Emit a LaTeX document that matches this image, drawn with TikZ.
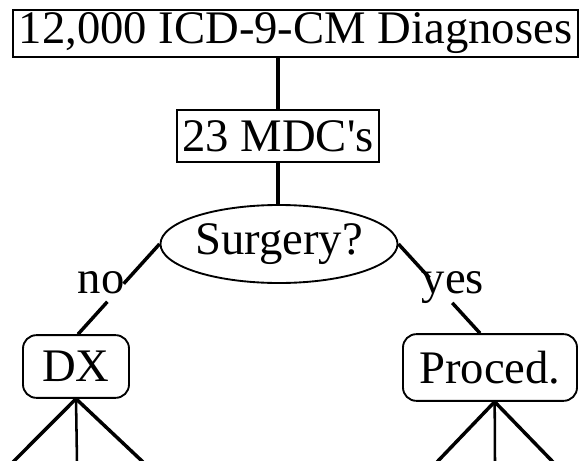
\documentclass[tikz,border=0pt]{standalone}
\usepackage{fontspec}
\setmainfont{Liberation Serif}

\tikzset{every picture/.style={line width=0.75pt}}
\tikzset{
  sqbox/.style={draw,line width=1.4pt,inner sep=0pt,font=\fontsize{35}{40}\selectfont},
  rndbox/.style={draw,line width=1.4pt,rounded corners=10pt,inner sep=0pt,font=\fontsize{35}{40}\selectfont},
  ovalbox/.style={draw,ellipse,line width=1.4pt,inner sep=0pt,font=\fontsize{35}{40}\selectfont},
  branch/.style={line width=2.6pt},
  answer/.style={anchor=base,inner sep=0pt,font=\fontsize{35}{40}\selectfont}
}
\usetikzlibrary{shapes.geometric}

\begin{document}
\begin{tikzpicture}[x=0.75pt,y=0.75pt,yscale=-1,xscale=1]
\useasboundingbox (0,0) rectangle (581,460); %set diagram left start at 0, and has height of 460

\node [sqbox,minimum width=424pt,minimum height=35pt] (icd) at (295.5,33.5) {12,000 ICD-9-CM Diagnoses};
\node [sqbox,minimum width=151.5pt,minimum height=39pt] (mdc) at (278,136) {23 MDC\textquotesingle s};
\node [ovalbox,minimum width=160pt,minimum height=58.5pt] (surg) at (279,244) {Surgery?};
\node [rndbox,minimum width=79.5pt,minimum height=47pt] (dx) at (76,366.5) {DX};
\node [rndbox,minimum width=130.5pt,minimum height=50pt] (proc) at (490,367.5) {Proced.};

\draw [line width=2.6pt] (icd.south -| mdc.north) -- (mdc.north) ;
\draw [line width=2.6pt] (mdc.south) -- (mdc.south |- surg.north) ;


\path (surg.west) -- ([xshift=1.5pt]dx.north) coordinate [pos=0.44] (nogap1) coordinate [pos=0.64] (nogap2) ;
\draw [branch] (surg.west) -- (nogap1) ;
\draw [branch] (nogap2) -- ([xshift=1.5pt]dx.north) ;
\node [answer] (no) at (101,293) {no};


\path (surg.east) -- ([xshift=-7.5pt]proc.north) coordinate [pos=0.38] (yesgap1) coordinate [pos=0.66] (yesgap2) ;
\draw [branch] (surg.east) -- (yesgap1) ;
\draw [branch] (yesgap2) -- ([xshift=-7.5pt]proc.north) ;
\node [answer] (yes) at (453,293) {yes};


\coordinate (dxl) at (13,462) ;
\coordinate (dxm) at (77,462) ;
\coordinate (dxr) at (143,462) ;
\draw [branch] (dx.south) -- (dxl) ;
\draw [line width=1.9pt] (dx.south) -- (dxm) ;
\draw [branch] (dx.south) -- (dxr) ;


\coordinate (prl) at (437,462) ;
\coordinate (prm) at (495,462) ;
\coordinate (prr) at (553,462) ;
\draw [branch] ([xshift=3.5pt]proc.south) -- (prl) ;
\draw [line width=1.9pt] ([xshift=3.5pt]proc.south) -- (prm) ;
\draw [branch] ([xshift=3.5pt]proc.south) -- (prr) ;

\end{tikzpicture}
\end{document}
